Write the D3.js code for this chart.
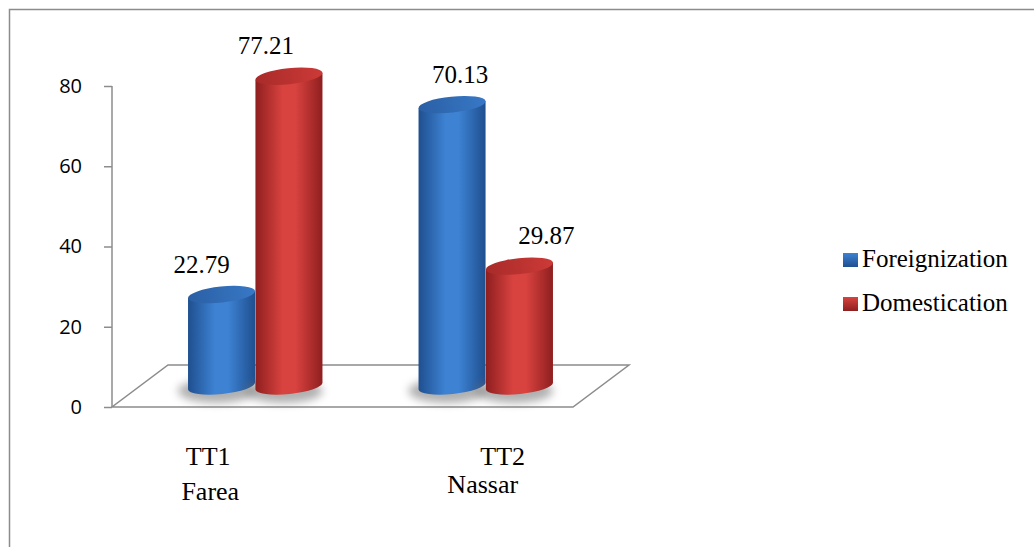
<!DOCTYPE html>
<html>
<head>
<meta charset="utf-8">
<script src="https://cdn.jsdelivr.net/npm/d3@7"></script>
<style>
  body { margin: 0; background: #fff; }
</style>
</head>
<body>
<div id="chart"></div>
<script>
// Chart data
const categories = ['TT1', 'TT2']
const categoryLines = [['TT1', 'Farea'], ['TT2', 'Nassar']]
const series = ['Foreignization', 'Domestication']
const foreignization = [22.79, 70.13]
const domestication = [77.21, 29.87]
const yTicks = [0, 20, 40, 60, 80]

// Layout
const width = 1034
const height = 547
const depth = { dx: 56, dy: -42 }   // floor depth (3d look)
const tilt = -6                      // ellipse tilt in degrees
const ry = 8
const serif = 'Liberation Serif'
const sans = 'Open Sans'

// nudges so labels sit where the original put them
const valueLabelShift = { Foreignization: [-20, 8], Domestication: [-23, 27] }
const catLabelPos = [
  [{ dx: -19, y: 465 }, { dx: -17, y: 500 }],
  [{ dx: 45, y: 465 }, { dx: 25, y: 493 }]
]

const colors = {
  Foreignization: { edge: '#1f4f8f', mid: '#3d82d3', top: ['#2a5fa4', '#3878c6'] },
  Domestication: { edge: '#8e1f1f', mid: '#d8423f', top: ['#a82b29', '#cc3a37'] }
}

const values = { Foreignization: foreignization, Domestication: domestication }

const svg = d3.select('#chart')
  .append('svg')
  .attr('width', width)
  .attr('height', height)

const defs = svg.append('defs')

series.forEach((s, i) => {
  const c = colors[s]
  const body = defs.append('linearGradient').attr('id', 'body' + i)
    .attr('x1', 0).attr('x2', 1).attr('y1', 0).attr('y2', 0)
  body.append('stop').attr('offset', '0%').attr('stop-color', c.edge)
  body.append('stop').attr('offset', '40%').attr('stop-color', c.mid)
  body.append('stop').attr('offset', '60%').attr('stop-color', c.mid)
  body.append('stop').attr('offset', '100%').attr('stop-color', c.edge)

  const top = defs.append('linearGradient').attr('id', 'top' + i)
    .attr('x1', 0).attr('x2', 1).attr('y1', 0).attr('y2', 0)
  top.append('stop').attr('offset', '0%').attr('stop-color', c.top[0])
  top.append('stop').attr('offset', '100%').attr('stop-color', c.top[1])

  const leg = defs.append('linearGradient').attr('id', 'leg' + i)
    .attr('x1', 0).attr('x2', 0).attr('y1', 0).attr('y2', 1)
  leg.append('stop').attr('offset', '0%').attr('stop-color', c.mid)
  leg.append('stop').attr('offset', '100%').attr('stop-color', c.edge)
})

defs.append('filter').attr('id', 'blur')
  .attr('x', '-50%').attr('y', '-50%').attr('width', '200%').attr('height', '200%')
  .append('feGaussianBlur').attr('stdDeviation', 4)

// Outer frame
svg.append('rect')
  .attr('x', 9.5).attr('y', 9.5)
  .attr('width', width).attr('height', height)
  .attr('fill', 'none')
  .attr('stroke', '#8c8c8c')
  .attr('stroke-width', 1.5)

// Scales
const y = d3.scaleLinear().domain([0, 80]).range([407, 86])
const x = d3.scaleBand().domain(categories).range([112, 573])
const xs = d3.scaleBand().domain(series).range([0, x.bandwidth()])
  .paddingInner(0).paddingOuter(0.71)

// Floor
const x0 = x.range()[0], x1 = x.range()[1], y0 = y(0)
svg.append('polygon')
  .attr('points', [
    [x0, y0], [x1, y0], [x1 + depth.dx, y0 + depth.dy], [x0 + depth.dx, y0 + depth.dy]
  ].map(p => p.join(',')).join(' '))
  .attr('fill', '#fff')
  .attr('stroke', '#8c8c8c')
  .attr('stroke-width', 1.5)

// Y axis
const yAxis = svg.append('g')
  .attr('transform', `translate(${x0}, 0)`)
  .attr('class', 'y-axis')
  .call(d3.axisLeft(y).tickValues(yTicks).tickSize(8).tickPadding(22))
yAxis.attr('font-size', 20).attr('font-family', sans)
yAxis.select('.domain').attr('stroke', '#8c8c8c').attr('stroke-width', 1.5)
  .attr('d', `M0,${y(80)}V${y(0)}`)
yAxis.selectAll('.tick line').attr('stroke', '#8c8c8c').attr('stroke-width', 1.5)
yAxis.selectAll('.tick text').attr('fill', '#000')

// Cylinders
const rad = tilt * Math.PI / 180
const bars = []
categories.forEach((cat, ci) => {
  series.forEach((s, si) => {
    bars.push({ cat, ci, s, si, v: values[s][ci] })
  })
})

const rx = xs.bandwidth() / 2
const cosT = Math.cos(rad), sinT = Math.sin(rad)

const barG = svg.selectAll('g.bar')
  .data(bars)
  .enter().append('g')
  .attr('class', 'bar')

barG.each(function (d) {
  const g = d3.select(this)
  const cx = x(d.cat) + depth.dx / 2 + xs(d.s) + rx
  const yb = y(0) + depth.dy / 2
  const yt = y(d.v) + depth.dy / 2
  d.cx = cx; d.yt = yt

  // shadow
  g.append('ellipse')
    .attr('cx', cx - 5).attr('cy', yb + 5)
    .attr('rx', rx + 5).attr('ry', ry + 4)
    .attr('fill', '#6e6e6e').attr('opacity', 0.55)
    .attr('filter', 'url(#blur)')

  const lx = -rx * cosT, ly = -rx * sinT
  const path = `M${cx + lx},${yt + ly} L${cx + lx},${yb + ly}` +
    ` A${rx},${ry} ${tilt} 0 0 ${cx - lx},${yb - ly}` +
    ` L${cx - lx},${yt - ly} Z`
  g.append('path')
    .attr('d', path)
    .attr('fill', `url(#body${d.si})`)

  g.append('ellipse')
    .attr('cx', cx).attr('cy', yt)
    .attr('rx', rx).attr('ry', ry)
    .attr('transform', `rotate(${tilt} ${cx} ${yt})`)
    .attr('fill', `url(#top${d.si})`)
})

// Value labels
svg.selectAll('text.value')
  .data(bars)
  .enter().append('text')
  .attr('class', 'value')
  .attr('x', d => d.cx + valueLabelShift[d.s][d.ci])
  .attr('y', d => d.yt - 22)
  .attr('text-anchor', 'middle')
  .attr('font-family', serif)
  .attr('font-size', 25)
  .text(d => d.v.toFixed(2))

// Category labels
categories.forEach((cat, ci) => {
  const cxFront = x(cat) + x.bandwidth() / 2
  categoryLines[ci].forEach((line, li) => {
    const p = catLabelPos[ci][li]
    svg.append('text')
      .attr('x', cxFront + p.dx)
      .attr('y', p.y)
      .attr('text-anchor', 'middle')
      .attr('font-family', serif)
      .attr('font-size', 26)
      .text(line)
  })
})

// Legend
const legend = svg.append('g').attr('transform', 'translate(843, 253)')
const item = legend.selectAll('g')
  .data(series)
  .enter().append('g')
  .attr('transform', (d, i) => `translate(0, ${i * 44})`)
item.append('rect')
  .attr('width', 15).attr('height', 14)
  .attr('fill', (d, i) => `url(#leg${i})`)
item.append('text')
  .attr('x', 19).attr('y', 14)
  .attr('font-family', serif)
  .attr('font-size', 25)
  .text(d => d)
</script>
</body>
</html>
